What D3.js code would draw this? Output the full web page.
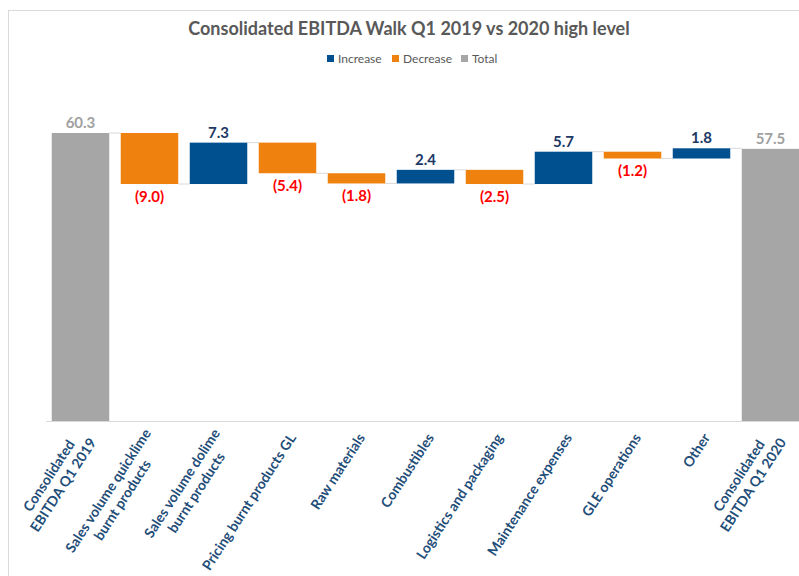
<!DOCTYPE html>
<html lang="en">
<head>
    <meta charset="UTF-8">
    <title>Consolidated EBITDA Walk</title>
    <script src="https://d3js.org/d3.v7.min.js"></script>
    <style>
        body { margin: 0; background: #fff; }
        svg { font-family: Lato, "Noto Sans", sans-serif; }
        .cat-label { font-size: 14px; font-weight: bold; fill: #1f4e79; }
        .val-label { font-size: 15px; font-weight: bold; text-anchor: middle; }
        .legend text { font-size: 12px; fill: #595959; }
    </style>
</head>
<body>
    <svg width="799" height="576"></svg>
    <script>
        // chart data
        const categories = [
            "Consolidated\nEBITDA Q1 2019",
            "Sales volume quicklime\nburnt products",
            "Sales volume dolime\nburnt products",
            "Pricing burnt products GL",
            "Raw materials",
            "Combustibles",
            "Logistics and packaging",
            "Maintenance expenses",
            "GLE operations",
            "Other",
            "Consolidated\nEBITDA Q1 2020"
        ];
        const values = [60.3, -9.0, 7.3, -5.4, -1.8, 2.4, -2.5, 5.7, -1.2, 1.8, 57.5];
        const kinds = ["Total", "Decrease", "Increase", "Decrease", "Decrease", "Increase",
                       "Decrease", "Increase", "Decrease", "Increase", "Total"];
        const legendItems = ["Increase", "Decrease", "Total"];

        const colors = { Increase: "#004f8f", Decrease: "#ef810f", Total: "#a6a6a6" };
        const labelColors = { Increase: "#203864", Decrease: "#ff0000", Total: "#a0a0a0" };

        const svg = d3.select("svg");

        // outer chart frame (runs past the right and bottom edges)
        svg.append("rect")
            .attr("x", 8.5).attr("y", 10.5)
            .attr("width", 820).attr("height", 600)
            .attr("fill", "none")
            .attr("stroke", "#d9d9d9");

        svg.append("text")
            .attr("x", 409).attr("y", 35)
            .attr("text-anchor", "middle")
            .style("font-size", "18px")
            .style("font-weight", "bold")
            .style("fill", "#595959")
            .text("Consolidated EBITDA Walk Q1 2019 vs 2020 high level");

        // legend
        const legendX = [327, 392, 461];
        const legend = svg.append("g").attr("class", "legend");
        legendItems.forEach((k, i) => {
            legend.append("rect")
                .attr("x", legendX[i]).attr("y", 55)
                .attr("width", 7).attr("height", 7)
                .attr("fill", colors[k]);
            legend.append("text")
                .attr("x", legendX[i] + 11).attr("y", 62.5)
                .text(k);
        });

        const x = d3.scaleBand()
            .domain(categories)
            .range([46, 805])
            .paddingInner(0.1667)
            .paddingOuter(0.0833);

        const y = d3.scaleLinear()
            .domain([9.5, 70])
            .range([421, 78]);

        // running totals for the walk
        let running = 0;
        const steps = values.map((v, i) => {
            let lo, hi;
            if (kinds[i] === "Total") {
                lo = y.domain()[0]; hi = v; running = v;
            } else {
                const start = running;
                running = start + v;
                lo = Math.min(start, running); hi = Math.max(start, running);
            }
            return { cat: categories[i], v, kind: kinds[i], lo, hi, level: running };
        });

        // baseline
        svg.append("line")
            .attr("x1", 46).attr("x2", 799)
            .attr("y1", y(y.domain()[0]) + 0.5).attr("y2", y(y.domain()[0]) + 0.5)
            .attr("stroke", "#d9d9d9");

        // connectors between bars
        svg.append("g").selectAll("line")
            .data(steps.slice(0, -1))
            .join("line")
            .attr("x1", d => x(d.cat) + x.bandwidth())
            .attr("x2", (d, i) => x(steps[i + 1].cat))
            .attr("y1", d => y(d.level))
            .attr("y2", d => y(d.level))
            .attr("stroke", "#d9d9d9")
            .attr("stroke-width", 1);

        svg.append("g").selectAll("rect")
            .data(steps)
            .join("rect")
            .attr("x", d => x(d.cat))
            .attr("width", x.bandwidth())
            .attr("y", d => y(d.hi))
            .attr("height", d => y(d.lo) - y(d.hi))
            .attr("fill", d => colors[d.kind]);

        // value labels
        svg.append("g").selectAll("text")
            .data(steps)
            .join("text")
            .attr("class", "val-label")
            .attr("x", d => x(d.cat) + x.bandwidth() / 2)
            .attr("y", d => d.kind === "Decrease" ? y(d.lo) + 17.5 : y(d.hi) - 5)
            .style("fill", d => labelColors[d.kind])
            .text(d => d.v < 0 ? `(${Math.abs(d.v).toFixed(1)})` : d.v.toFixed(1));

        // rotated category labels
        const lineH = 17;
        const catG = svg.append("g").selectAll("g")
            .data(categories)
            .join("g")
            .attr("transform", d => `translate(${x(d) + x.bandwidth() / 2 + 5},435) rotate(-57)`);

        catG.each(function(d) {
            const g = d3.select(this);
            const lines = d.split("\n");
            const texts = lines.map((ln, i) => g.append("text")
                .attr("class", "cat-label")
                .attr("text-anchor", "middle")
                .attr("y", (i - (lines.length - 1) / 2) * lineH)
                .attr("dy", "0.35em")
                .text(ln));
            const maxW = d3.max(texts, t => t.node().getComputedTextLength());
            texts.forEach(t => t.attr("x", -maxW / 2));
        });
    </script>
</body>
</html>
